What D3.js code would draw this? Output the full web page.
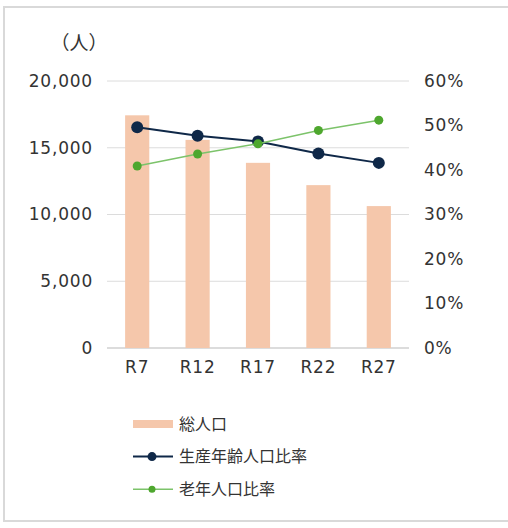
<!DOCTYPE html>
<html>
<head>
<meta charset="utf-8">
<script src="https://cdn.jsdelivr.net/npm/d3@7"></script>
<style>
  html, body { margin: 0; padding: 0; background: #fff; }
  svg { display: block; }
</style>
</head>
<body>
<svg id="chart" width="508" height="528"></svg>
<script>
"use strict";

/* ── Data ─────────────────────────────────────────────────── */
const CATEGORIES   = ["R7", "R12", "R17", "R22", "R27"];
const TOTAL_POP    = [17430, 15590, 13870, 12200, 10630];   // 総人口 (人)
const WORKING_RATE = [49.6, 47.7, 46.4, 43.7, 41.6];        // 生産年齢人口比率 (%)
const ELDERLY_RATE = [40.9, 43.6, 45.9, 48.9, 51.2];        // 老年人口比率 (%)
const LEFT_TICKS   = [0, 5000, 10000, 15000, 20000];
const RIGHT_TICKS  = [0, 10, 20, 30, 40, 50, 60];

const SERIES_LABELS = ["総人口", "生産年齢人口比率", "老年人口比率"];

const COL_BAR   = "#f5c7ab";
const COL_NAVY  = "#0f2848";
const COL_GREEN_LINE = "#7cc36a";
const COL_GREEN_DOT  = "#4ea72e";
const COL_TEXT  = "#333";
const NUM_FONT = "'DejaVu Sans', sans-serif";
const JP_FONT  = "'Noto Sans CJK JP', 'Noto Sans', sans-serif";

const svg = d3.select("#chart");

/* frame (right edge runs off the canvas) */
svg.append("path")
  .attr("d", "M510,7 H4 V521 H510")
  .attr("fill", "none")
  .attr("stroke", "#d9d9d9")
  .attr("stroke-width", 2);

const plot = { left: 107, right: 409, top: 81, bottom: 348 };

const x = d3.scaleBand()
  .domain(CATEGORIES)
  .range([plot.left, plot.right])
  .paddingInner(0.6)
  .paddingOuter(0.3);

const yL = d3.scaleLinear().domain([0, 20000]).range([plot.bottom, plot.top]);
const yR = d3.scaleLinear().domain([0, 60]).range([plot.bottom, plot.top]);

/* gridlines */
svg.append("g")
  .selectAll("line")
  .data(LEFT_TICKS)
  .join("line")
  .attr("x1", plot.left).attr("x2", plot.right)
  .attr("y1", d => yL(d)).attr("y2", d => yL(d))
  .attr("stroke", d => d === 0 ? "#d0d0d0" : "#dcdcdc")
  .attr("stroke-width", d => d === 0 ? 1.5 : 1);

function styleNum(g) {
  g.select(".domain").remove();
  g.selectAll("text")
    .attr("font-family", NUM_FONT)
    .attr("font-size", 17)
    .attr("letter-spacing", 0.8)
    .attr("fill", COL_TEXT);
}

/* left axis */
svg.append("g")
  .attr("transform", "translate(" + (plot.left - 14) + ",0)")
  .call(d3.axisLeft(yL).tickValues(LEFT_TICKS).tickFormat(d3.format(",")).tickSize(0).tickPadding(0))
  .call(styleNum);

/* right axis */
svg.append("g")
  .attr("transform", "translate(" + (plot.right + 15) + ",0)")
  .call(d3.axisRight(yR).tickValues(RIGHT_TICKS).tickFormat(d => d + "%").tickSize(0).tickPadding(0))
  .call(styleNum);

/* category axis */
svg.append("g")
  .attr("transform", "translate(0," + (plot.bottom + 11) + ")")
  .call(d3.axisBottom(x).tickSize(0).tickPadding(0))
  .call(styleNum)
  .selectAll("text").attr("dy", "0.8em");

/* unit label */
svg.append("text")
  .attr("x", 79).attr("y", 50)
  .attr("text-anchor", "middle")
  .attr("font-family", JP_FONT).attr("font-size", 19).attr("fill", COL_TEXT)
  .text("（人）");

/* bars */
svg.append("g")
  .selectAll("rect")
  .data(TOTAL_POP)
  .join("rect")
  .attr("x", (d, i) => x(CATEGORIES[i]))
  .attr("width", x.bandwidth())
  .attr("y", d => yL(d))
  .attr("height", d => yL(0) - yL(d))
  .attr("fill", COL_BAR);

/* lines */
const cx = (d, i) => x(CATEGORIES[i]) + x.bandwidth() / 2;

function drawSeries(values, lineCol, dotCol, lineW, r) {
  const line = d3.line().x(cx).y(d => yR(d));
  svg.append("path")
    .datum(values)
    .attr("d", line)
    .attr("fill", "none")
    .attr("stroke", lineCol)
    .attr("stroke-width", lineW);
  svg.append("g")
    .selectAll("circle")
    .data(values)
    .join("circle")
    .attr("cx", cx)
    .attr("cy", d => yR(d))
    .attr("r", r)
    .attr("fill", dotCol);
}

drawSeries(WORKING_RATE, COL_NAVY, COL_NAVY, 2, 6);
drawSeries(ELDERLY_RATE, COL_GREEN_LINE, COL_GREEN_DOT, 1.5, 4.5);

/* legend */
const legend = svg.append("g").attr("transform", "translate(133,424)");
const rowH = 32.6;

legend.append("rect")
  .attr("x", 0).attr("y", -4).attr("width", 40).attr("height", 8)
  .attr("fill", COL_BAR);

legend.append("line")
  .attr("x1", 0).attr("x2", 40).attr("y1", rowH).attr("y2", rowH)
  .attr("stroke", COL_NAVY).attr("stroke-width", 2);
legend.append("circle")
  .attr("cx", 19).attr("cy", rowH).attr("r", 4.5).attr("fill", COL_NAVY);

legend.append("line")
  .attr("x1", 0).attr("x2", 40).attr("y1", rowH * 2).attr("y2", rowH * 2)
  .attr("stroke", COL_GREEN_LINE).attr("stroke-width", 1.5);
legend.append("circle")
  .attr("cx", 19).attr("cy", rowH * 2).attr("r", 3.5).attr("fill", COL_GREEN_DOT);

legend.selectAll("text")
  .data(SERIES_LABELS)
  .join("text")
  .attr("x", 46)
  .attr("y", (d, i) => i * rowH)
  .attr("dy", "0.35em")
  .attr("font-family", JP_FONT).attr("font-size", 16).attr("fill", COL_TEXT)
  .text(d => d);
</script>
</body>
</html>
